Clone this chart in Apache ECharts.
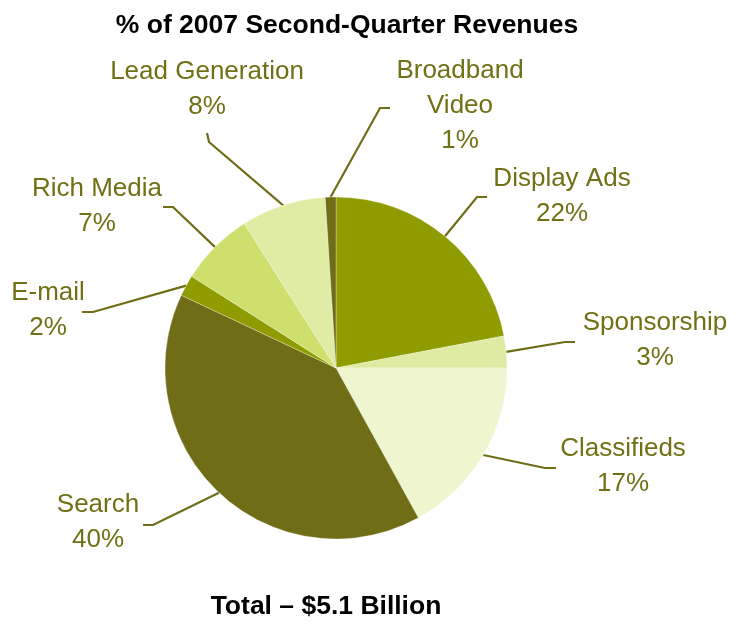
<!DOCTYPE html>
<html>
<head>
<meta charset="utf-8">
<style>
  html, body { margin: 0; padding: 0; background: #ffffff; }
  #chart { width: 736px; height: 624px; }
</style>
<script src="https://cdn.jsdelivr.net/npm/echarts@6/dist/echarts.min.js"></script>
</head>
<body>
<div id="chart"></div>
<script>
// Revenue share by ad format, Q2 2007 (percent), clockwise from 12 o'clock
const categories = ['Display Ads', 'Sponsorship', 'Classifieds', 'Search', 'E-mail', 'Rich Media', 'Lead Generation', 'Broadband\nVideo'];
const shares = [22, 3, 17, 40, 2, 7, 8, 1];
const sliceColors = ['#8e9c00', '#dfeaa2', '#eef5cf', '#6f6d16', '#8e9c00', '#cfdf6e', '#e0eba4', '#6f6d16'];

// Label placement: text block centre, leader elbow and leader tail (px)
const labelCentres = [[562, 196], [655, 340], [623, 466], [98, 522], [48, 310], [97, 206], [207, 89], [460, 106]];
const leaderElbows = [[477, 197], [565, 342], [545, 468], [153, 525], [93, 312], [173, 207], [209, 142], [380, 108]];
const leaderTails = [[487, 197], [575, 342], [556, 468], [143, 525], [82, 312], [163, 207], [207, 133], [390, 108]];

const olive = '#707015';
const font = '"Liberation Sans", Arial, sans-serif';

const chart = echarts.init(document.getElementById('chart'), null, { renderer: 'canvas' });

chart.setOption({
  backgroundColor: '#ffffff',
  animation: false,
  title: [
    {
      text: '% of 2007 Second-Quarter Revenues',
      left: 347, top: 26, padding: 0, textAlign: 'center', textVerticalAlign: 'middle',
      textStyle: { fontFamily: font, fontSize: 26.5, fontWeight: 'bold', color: '#000000' }
    },
    {
      text: 'Total – $5.1 Billion',
      left: 326, top: 607, padding: 0, textAlign: 'center', textVerticalAlign: 'middle',
      textStyle: { fontFamily: font, fontSize: 26.5, fontWeight: 'bold', color: '#000000' }
    }
  ],
  series: [{
    type: 'pie',
    center: [336, 368],
    radius: [0, 171],
    startAngle: 90,
    clockwise: true,
    avoidLabelOverlap: false,
    itemStyle: { borderColor: 'rgba(255,255,255,0.6)', borderWidth: 0.5 },
    label: {
      show: true,
      position: 'outside',
      fontFamily: font,
      fontSize: 26,
      lineHeight: 35,
      color: olive,
      formatter: p => p.name + '\n' + p.value + '%'
    },
    labelLine: {
      show: true,
      length: 20,
      length2: 10,
      smooth: false,
      lineStyle: { color: '#6f6d16', width: 2.2 }
    },
    labelLayout: function (params) {
      const i = params.dataIndex;
      const start = params.labelLinePoints ? params.labelLinePoints[0] : leaderElbows[i];
      return {
        x: labelCentres[i][0],
        y: labelCentres[i][1],
        align: 'center',
        verticalAlign: 'middle',
        labelLinePoints: [start, leaderElbows[i], leaderTails[i]]
      };
    },
    emphasis: { disabled: true },
    data: categories.map((name, i) => ({
      name: name,
      value: shares[i],
      itemStyle: { color: sliceColors[i] }
    }))
  }]
});
</script>
</body>
</html>
